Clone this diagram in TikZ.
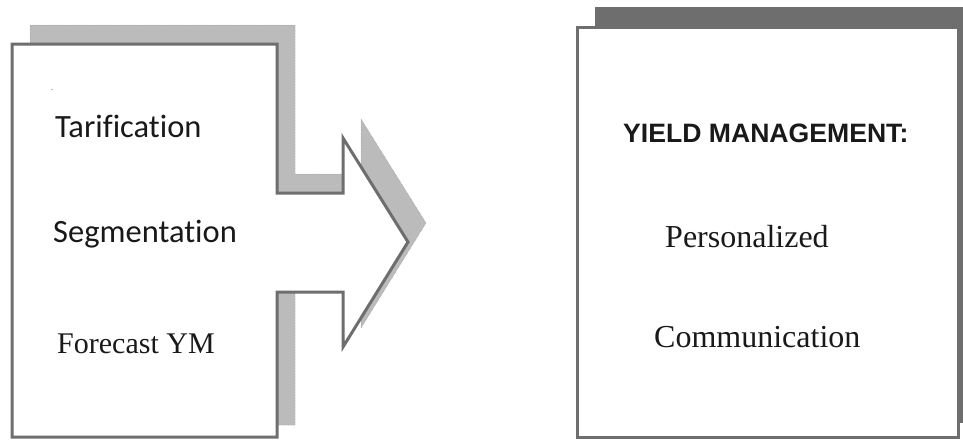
\documentclass[tikz,border=0pt]{standalone}
\usepackage{fontspec}
\setmainfont{Liberation Serif}
\newfontfamily\calib[Ligatures=NoCommon]{Carlito}
\newfontfamily\arialf{Liberation Sans}
\definecolor{edgegray}{HTML}{6E6E6E}
\definecolor{shadelight}{HTML}{BBBBBB}
\definecolor{shadedark}{HTML}{6E6E6E}
\begin{document}
\begin{tikzpicture}[x=1pt,y=-1pt,
  outl/.style={draw=edgegray, line width=3pt, fill=white, line join=miter},
  lshadow/.style={fill=shadelight, draw=gray!80, line width=0.5pt, densely dotted},
  txt/.style={inner sep=0pt, anchor=base west, text=black!90}]
\useasboundingbox (0,0) rectangle (963,439);
% left shadow
\path[lshadow] (30,25) -- (295,25) -- (295,174) -- (361,174) -- (361,119) -- (426,223)
  -- (361,328) -- (361,273) -- (295,273) -- (295,425) -- (30,425) -- cycle;
% left main shape
\path[outl] (12,44) -- (277,44) -- (277,193) -- (343,193) -- (343,138) -- (408,242)
  -- (343,347) -- (343,292) -- (277,292) -- (277,437) -- (12,437) -- cycle;
% right shadow
\fill[shadedark] (595,7) rectangle (963,423);
% right main box
\path[outl] (577,27) rectangle (958,437);
% texts
\node[txt, font=\fontsize{8}{9}\selectfont] (dot) at (51,90) {.};
\node[txt, font=\calib\fontsize{32.5}{36}\selectfont] (tar) at (55,137) {Tarification};
\node[txt, font=\calib\fontsize{32.5}{36}\selectfont] (seg) at (53,242) {Segmentation};
\node[txt, font=\fontsize{30}{34}\selectfont] (fore) at (57,353) {Forecast YM};
\node[txt, font=\arialf\bfseries\fontsize{26.6}{30}\selectfont] (ym) at (623,142) {YIELD MANAGEMENT:};
\node[txt, font=\fontsize{32}{36}\selectfont] (pers) at (665,247) {Personalized};
\node[txt, font=\fontsize{32}{36}\selectfont] (comm) at (654,347) {Communication};
\end{tikzpicture}
\end{document}
